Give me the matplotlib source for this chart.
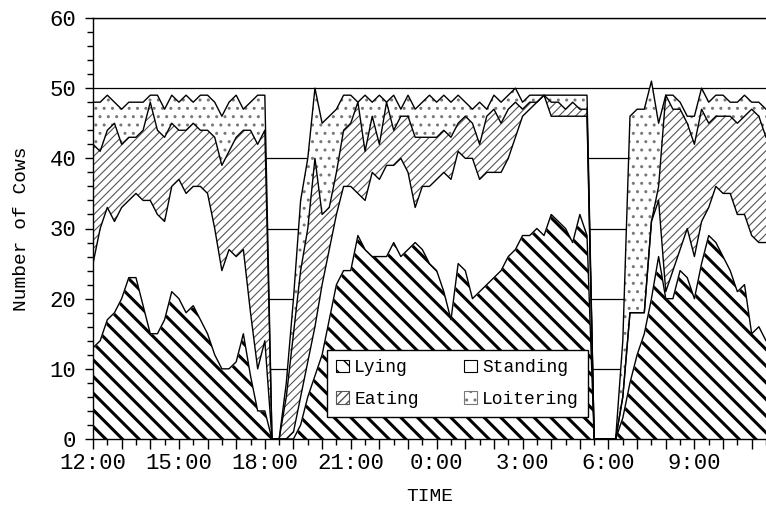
import numpy as np
import matplotlib
matplotlib.use("Agg")
import matplotlib.pyplot as plt
from matplotlib.patches import Patch
from matplotlib.ticker import MultipleLocator, FixedLocator, FixedFormatter

plt.rcParams['font.family'] = ['Liberation Mono', 'DejaVu Sans Mono']

# --- counts of cows per behaviour, one sample every 15 min from 12:00 ---
lying = [13, 14, 17, 18, 20, 23, 23, 19, 15, 15, 17, 21, 20, 18, 19, 17, 15, 12, 10, 10, 11, 15, 9, 4, 4,
         0, 0,
         0, 0, 2, 6, 9, 12, 17, 22, 24, 24, 29, 27, 26, 26, 26, 28, 26, 27, 28, 27, 25, 24, 21, 17, 25,
         24, 20, 21, 22, 23, 24, 26, 27, 29, 29, 30, 29, 32, 31, 30, 28, 32, 29,
         0, 0, 0, 0,
         3, 8, 12, 15, 20, 26, 20, 20, 24, 23, 20, 25, 29, 28, 26, 24, 21, 22, 15, 16, 14]
standing = [12, 16, 16, 13, 13, 11, 12, 15, 19, 17, 14, 15, 17, 17, 17, 19, 20, 18, 14, 17, 15, 12, 9, 6, 10,
            0, 0,
            0, 1, 4, 5, 7, 10, 10, 10, 12, 12, 6, 7, 12, 11, 13, 11, 14, 11, 5, 9, 11, 13, 17, 20, 16,
            16, 20, 16, 16, 15, 14, 14, 16, 17, 18, 18, 20, 14, 15, 16, 18, 14, 17,
            0, 0, 0, 0,
            3, 10, 6, 3, 11, 8, 1, 4, 3, 7, 6, 6, 4, 8, 9, 11, 11, 10, 14, 12, 14]
eating = [17, 11, 11, 14, 9, 9, 8, 10, 14, 12, 12, 9, 7, 9, 9, 8, 9, 13, 15, 14, 17, 17, 26, 32, 30,
          0, 0,
          6, 14, 18, 19, 24, 10, 6, 6, 8, 9, 13, 7, 8, 5, 9, 5, 6, 8, 10, 7, 7, 6, 6, 6, 4,
          6, 5, 5, 8, 9, 7, 7, 5, 1, 1, 0, 0, 2, 2, 1, 2, 1, 1,
          0, 0, 0, 0,
          0, 0, 0, 0, 0, 2, 28, 23, 20, 15, 16, 16, 12, 10, 11, 11, 13, 14, 18, 18, 15]
loitering = [6, 7, 5, 3, 5, 5, 5, 4, 1, 5, 4, 4, 4, 5, 3, 5, 5, 5, 7, 7, 6, 3, 4, 7, 5,
             0, 0,
             2, 5, 10, 10, 10, 13, 13, 9, 5, 4, 0, 8, 2, 7, 0, 5, 1, 3, 4, 5, 6, 5, 5, 5, 4,
             2, 2, 6, 1, 2, 3, 2, 2, 1, 1, 1, 0, 1, 1, 2, 1, 2, 2,
             0, 0, 0, 0,
             8, 28, 29, 29, 20, 9, 0, 2, 1, 1, 4, 3, 3, 3, 3, 2, 3, 3, 1, 2, 4]

labels = ['Lying', 'Standing', 'Eating', 'Loitering']
time_labels = ['12:00', '15:00', '18:00', '21:00', '0:00', '3:00', '6:00', '9:00']

hours = np.arange(len(lying)) * 0.25   # hours after 12:00


def hatch_lw(coll, lw):
    # hatch width is global in matplotlib, so force it while this artist draws
    if hasattr(coll, 'set_hatch_linewidth'):
        coll.set_hatch_linewidth(lw)
    draw = coll.draw

    def draw_lw(renderer):
        with plt.rc_context({'hatch.linewidth': lw}):
            draw(renderer)
    coll.draw = draw_lw


c1 = np.array(lying)
c2 = c1 + np.array(standing)
c3 = c2 + np.array(eating)
c4 = c3 + np.array(loitering)

fig = plt.figure(figsize=(7.66, 5.14), dpi=100)
ax = fig.add_axes([93 / 766, 1 - 439 / 514, 1 - 93 / 766, 421 / 514])

styles = [
    dict(hatch='\\\\', color='black', lw=2.2),
    dict(hatch=None, color='black', lw=1.0),
    dict(hatch='////', color='#555555', lw=0.8),
    dict(hatch='..', color='#777777', lw=1.0),
]
bounds = [(np.zeros_like(c1), c1), (c1, c2), (c2, c3), (c3, c4)]
for (lo, hi), st in zip(bounds, styles):
    coll = ax.fill_between(hours, lo, hi, facecolor='white', edgecolor=st['color'],
                           hatch=st['hatch'], linewidth=0, zorder=2)
    hatch_lw(coll, st['lw'])

for top in (c1, c2, c3, c4):
    ax.plot(hours, top, color='black', lw=1.0, zorder=3)

ax.set_xlim(0, 23.5)
ax.set_ylim(0, 60)
ax.spines['right'].set_visible(False)
for s in ('left', 'bottom', 'top'):
    ax.spines[s].set_linewidth(1.0)

ax.yaxis.set_major_locator(MultipleLocator(10))
ax.yaxis.set_minor_locator(MultipleLocator(2))
ax.xaxis.set_major_locator(FixedLocator(np.arange(0, 24, 1)))
ax.xaxis.set_minor_locator(MultipleLocator(0.5))
ax.xaxis.set_major_formatter(FixedFormatter(
    [time_labels[h // 3] if h % 3 == 0 else '' for h in range(24)]))

ax.tick_params(axis='y', which='major', direction='out', length=6, width=1, labelsize=16, pad=6)
ax.tick_params(axis='y', which='minor', direction='out', length=4, width=1)
ax.tick_params(axis='x', which='major', direction='out', length=7, width=1, labelsize=16, pad=3)
ax.tick_params(axis='x', which='minor', direction='out', length=4, width=1)

ax.set_axisbelow(True)
ax.yaxis.grid(True, color='black', lw=0.9)

ax.set_xlabel('TIME', fontsize=14, labelpad=10)
ax.set_ylabel('Number of Cows', fontsize=14, labelpad=14)

handles = []
for st in styles:
    handles.append(Patch(facecolor='white', edgecolor=st['color'] if st['hatch'] else 'black',
                         hatch=st['hatch'], linewidth=0.8))
order = [0, 2, 1, 3]   # legend fills by column: Lying/Eating, Standing/Loitering
leg = ax.legend([handles[i] for i in order], [labels[i] for i in order], ncol=2,
                loc='upper left', bbox_to_anchor=(0.348, 0.211), fontsize=13,
                frameon=True, fancybox=False, framealpha=1, edgecolor='black',
                handlelength=0.7, handleheight=0.7, handletextpad=0.3,
                columnspacing=2.5, labelspacing=0.8, borderpad=0.5, borderaxespad=0)
leg.get_frame().set_linewidth(1.0)
leg.set_zorder(5)

fig.savefig('out.png', dpi=100)
